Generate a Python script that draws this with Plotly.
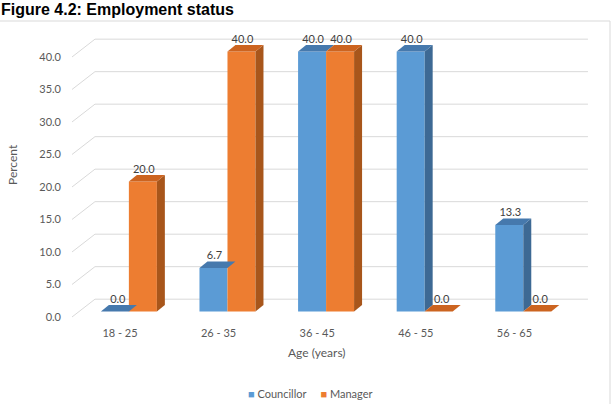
import plotly.graph_objects as go

# ---- data ----
categories = ["18 - 25", "26 - 35", "36 - 45", "46 - 55", "56 - 65"]
councillor = [0.0, 6.7, 40.0, 40.0, 13.3]
manager = [20.0, 40.0, 40.0, 0.0, 0.0]
y_ticks = [0, 5, 10, 15, 20, 25, 30, 35, 40]
y_tick_text = ["0.0", "5.0", "10.0", "15.0", "20.0", "25.0", "30.0", "35.0", "40.0"]

# ---- pseudo-3D geometry (axis units) ----
X_MIN, X_MAX = -0.4868, 4.868
Y_MIN, Y_MAX = -0.77, 44.15
GRID_DX, GRID_DY = 0.233, 2.74       # depth of back wall
GRID_X_END = 4.746
BAR_OFF = 0.09                         # pair centre shift from tick
BAR_W = 0.284
BAR_BASE = 0.85
BAR_DX, BAR_DY = 0.081, 1.0
LABEL_DY = 1.75

BLUE, BLUE_TOP, BLUE_SIDE = "#5b9bd5", "#4679ad", "#3d6994"
ORANGE, ORANGE_TOP, ORANGE_SIDE = "#ed7d31", "#cc6420", "#a8561b"
GRID = "#d9d9d9"
TXT = "#595959"
FONT = "Lato"

idx = list(range(len(categories)))
fig = go.Figure()

# back-wall gridlines (shapes below traces)
shapes = []
for v in y_ticks:
    shapes.append(dict(type="path", xref="x", yref="y", layer="below",
                       path=f"M {X_MIN},{v} L {X_MIN + GRID_DX},{v + GRID_DY} L {GRID_X_END},{v + GRID_DY}",
                       line=dict(color=GRID, width=1)))


def face(xs, ys, color):
    fig.add_trace(go.Scatter(
        x=xs, y=ys, mode="lines", fill="toself", fillcolor=color,
        line=dict(width=0, color=color), hoverinfo="skip", showlegend=False))


def add_series(values, other, name, left, front, top, side):
    xs = [i + BAR_OFF for i in idx]
    off = -BAR_W if left else 0.0
    fig.add_trace(go.Bar(
        x=xs, y=values, base=[BAR_BASE] * len(values), width=BAR_W, offset=off,
        marker=dict(color=front, line=dict(width=0)), name=name, showlegend=False))
    for xc, v, o in zip(xs, values, other):
        x0 = xc + off
        x1 = x0 + BAR_W
        t = BAR_BASE + v
        # side face (left series' side is hidden by right series when not taller)
        if v > 0 and (not left or v > o):
            face([x1, x1, x1 + BAR_DX, x1 + BAR_DX, x1],
                 [BAR_BASE, t, t + BAR_DY, BAR_BASE + BAR_DY, BAR_BASE], side)
        # top face
        face([x0, x1, x1 + BAR_DX, x0 + BAR_DX, x0],
             [t, t, t + BAR_DY, t + BAR_DY, t], top)
    fig.add_trace(go.Scatter(
        x=[xc + off + BAR_W / 2 + (0.03 if v == 0 else 0.01) for xc, v in zip(xs, values)],
        y=[BAR_BASE + v + LABEL_DY for v in values],
        text=[f"{v:.1f}" for v in values], mode="text",
        textfont=dict(family=FONT, size=11, color="#404040"),
        cliponaxis=False, hoverinfo="skip", showlegend=False))


add_series(councillor, manager, "Councillor", True, BLUE, BLUE_TOP, BLUE_SIDE)
add_series(manager, councillor, "Manager", False, ORANGE, ORANGE_TOP, ORANGE_SIDE)

PW, PH = 528, 292
L, R, T, B = 72, 615 - 72 - PW, 30, 404 - 30 - PH


def px(xp):
    return (xp - L) / PW


def py(yp):
    return (T + PH - yp) / PH


shapes.append(dict(type="rect", xref="paper", yref="paper",
                   x0=px(-1), x1=px(610), y0=py(405), y1=py(21),
                   line=dict(color="#d9d9d9", width=1), fillcolor="rgba(0,0,0,0)", layer="below"))

legend_text = (f"<span style='color:{BLUE}'>■</span> Councillor"
               f"     <span style='color:{ORANGE}'>■</span> Manager")

fig.update_layout(
    width=615, height=404,
    margin=dict(l=L, r=R, t=T, b=B, pad=0, autoexpand=False),
    paper_bgcolor="white", plot_bgcolor="white",
    font=dict(family=FONT, size=11, color=TXT),
    barmode="overlay",
    showlegend=False,
    xaxis=dict(range=[X_MIN, X_MAX], tickvals=idx, ticktext=categories,
               showgrid=False, zeroline=False, showline=False, ticks="",
               ticklabelstandoff=3,
               tickfont=dict(family=FONT, size=11, color=TXT)),
    yaxis=dict(range=[Y_MIN, Y_MAX], tickvals=y_ticks, ticktext=y_tick_text,
               showgrid=False, zeroline=False, showline=False, ticks="",
               ticklabelstandoff=10,
               tickfont=dict(family=FONT, size=11, color=TXT)),
    annotations=[
        dict(text="<b>Figure 4.2: Employment status</b>", xref="paper", yref="paper",
             x=px(0), y=py(19), xanchor="left", yanchor="bottom", borderpad=0,
             showarrow=False, font=dict(family="Liberation Sans", size=16, color="black")),
        dict(text="Percent", xref="paper", yref="paper", textangle=-90,
             x=px(12), y=py(165), xanchor="center", yanchor="middle",
             showarrow=False, font=dict(family=FONT, size=12, color=TXT)),
        dict(text="Age (years)", xref="paper", yref="paper",
             x=px(317), y=py(352), xanchor="center", yanchor="middle",
             showarrow=False, font=dict(family=FONT, size=12, color=TXT)),
        dict(text=legend_text, xref="paper", yref="paper",
             x=px(310), y=py(393), xanchor="center", yanchor="middle",
             showarrow=False, font=dict(family=FONT, size=11, color=TXT)),
    ],
    shapes=shapes,
)

fig.write_html("out.html")
